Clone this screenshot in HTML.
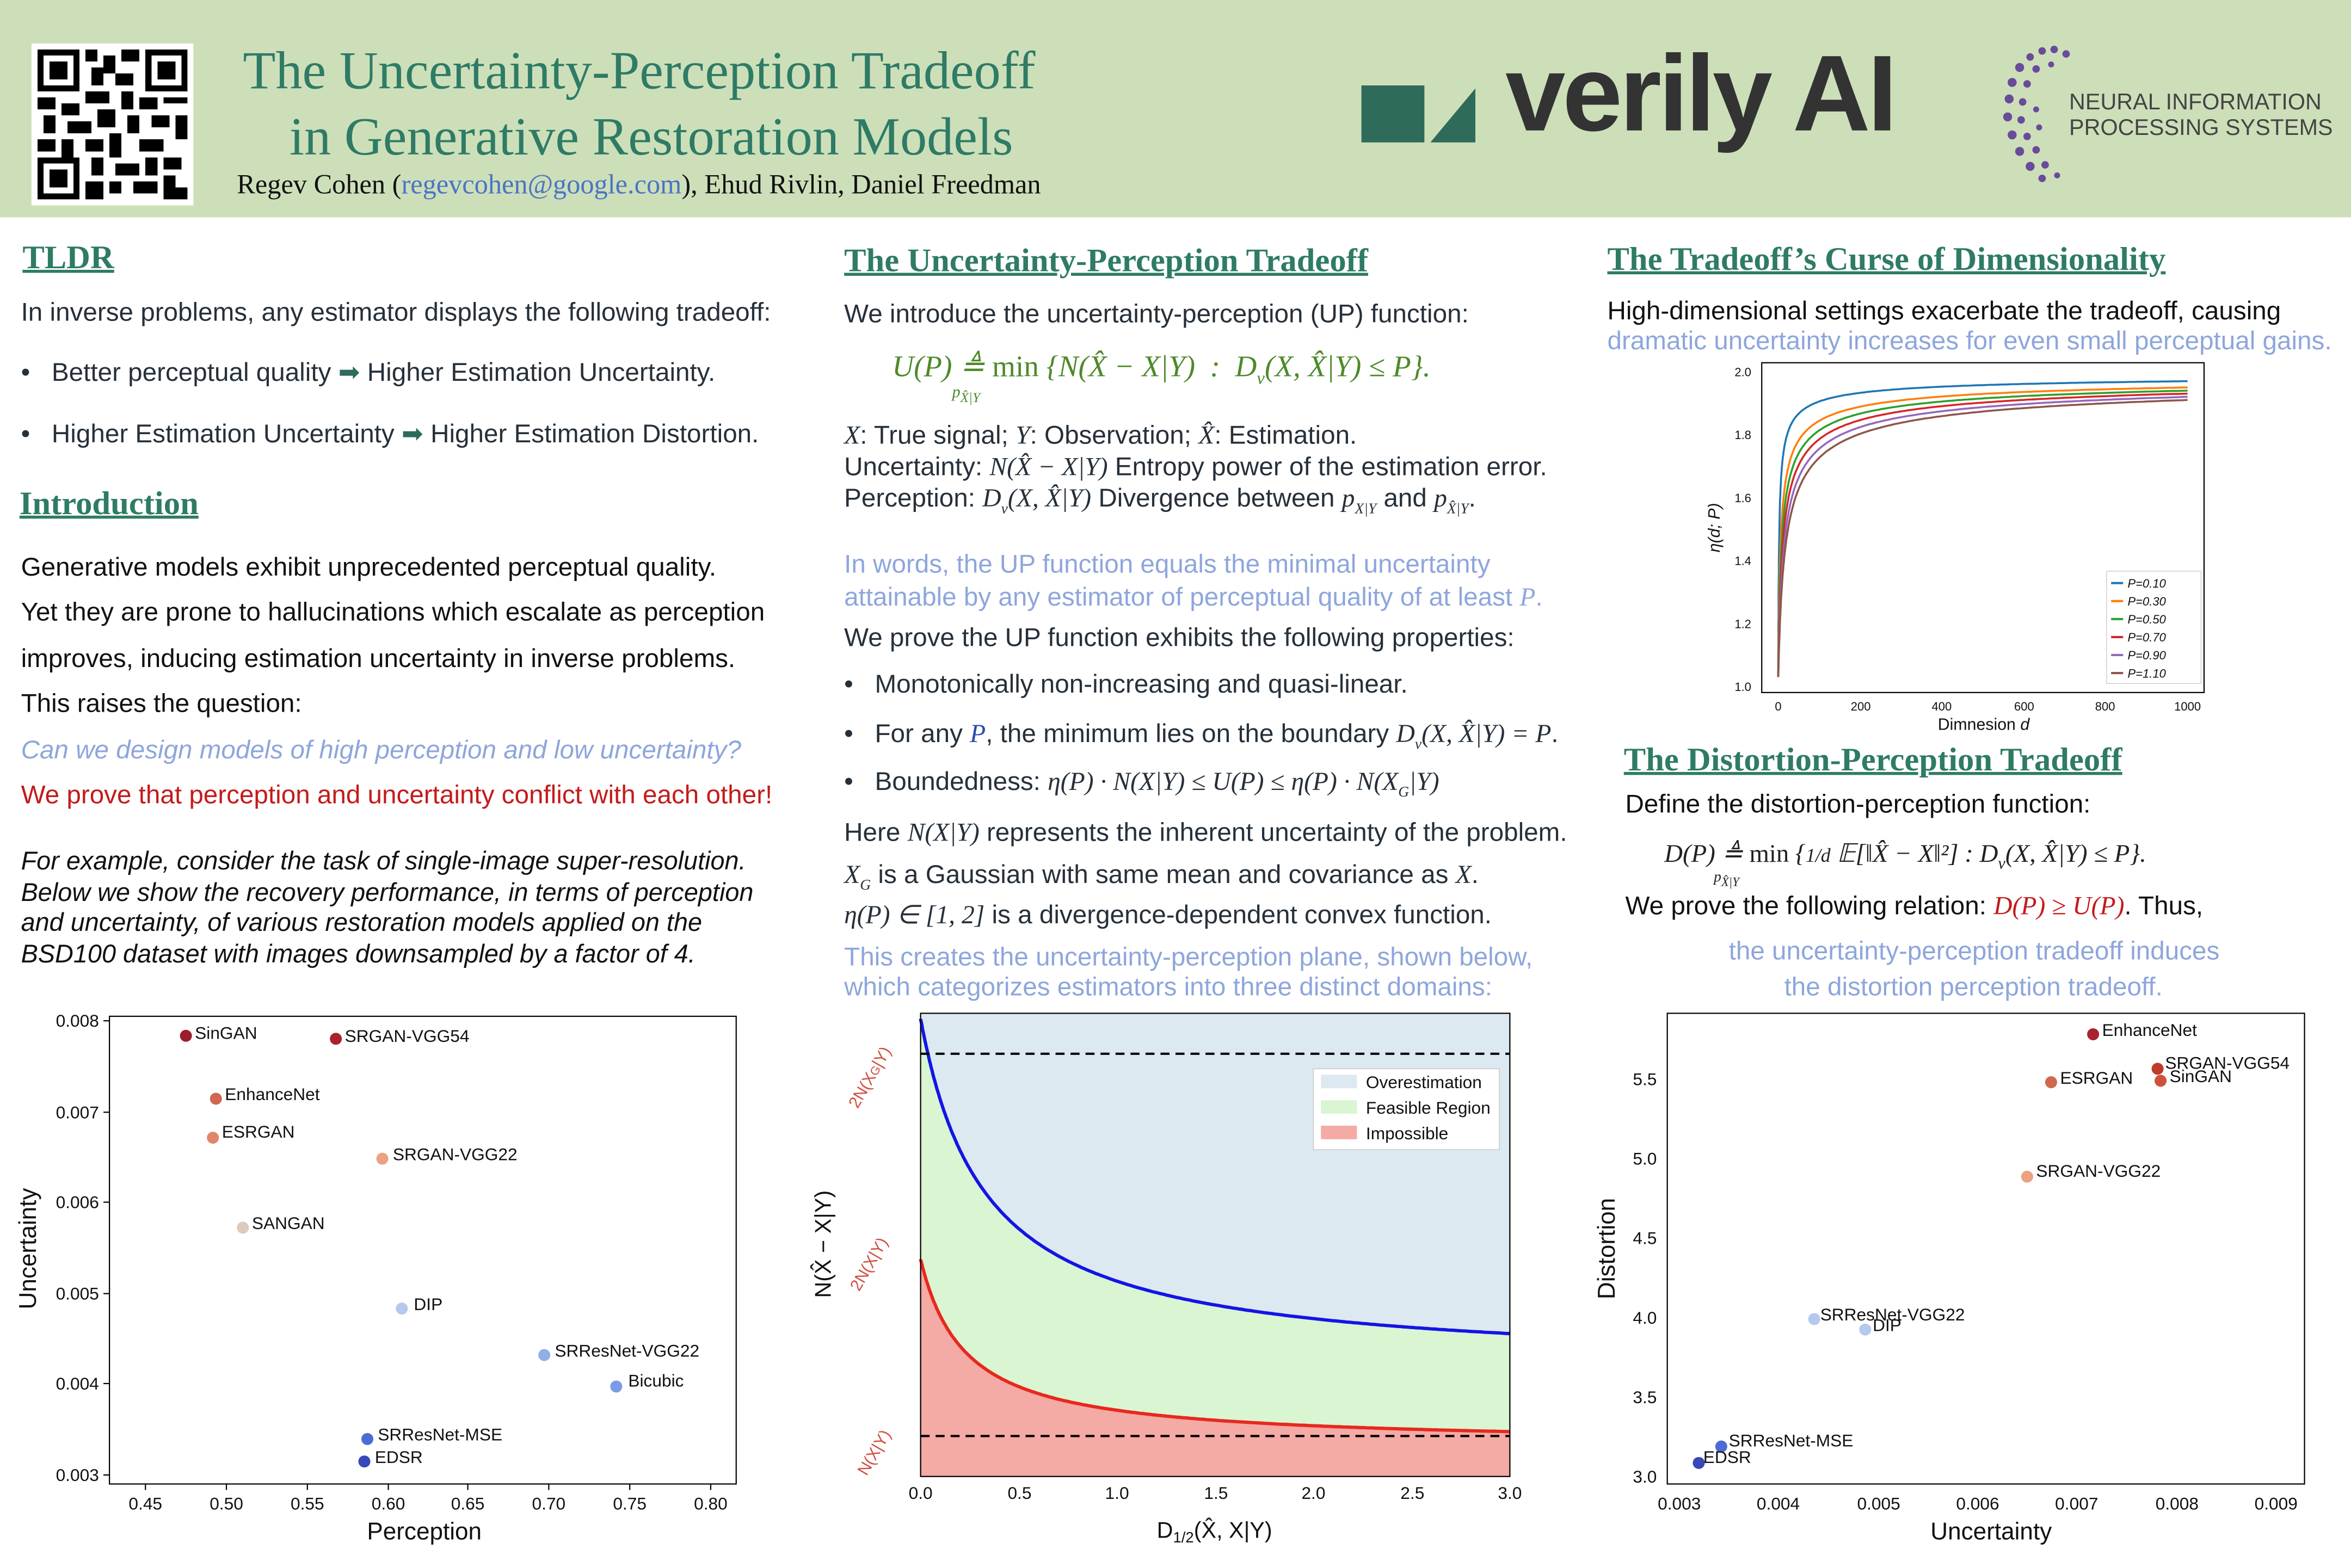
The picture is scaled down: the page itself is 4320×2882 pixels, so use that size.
<!DOCTYPE html>
<html><head><meta charset="utf-8">
<style>
html,body{margin:0;padding:0;background:#fff;overflow:hidden}
#root{position:absolute;left:0;top:0;width:1568px;height:1046px;transform:scale(2.7551);transform-origin:0 0;font-family:"Liberation Sans",sans-serif;color:#26303a}
.a{position:absolute;white-space:nowrap}
.t{font-size:17.3px}
.h{font-family:"Liberation Serif",serif;font-weight:bold;color:#2e7b66;font-size:22px;text-decoration:underline;text-decoration-thickness:1.5px}
.b{color:#8ea6dc}
.m{font-family:"Liberation Serif",serif;font-style:italic}
.g{color:#4d8a2a}
svg text{font-family:"Liberation Sans",sans-serif}
</style></head><body>
<div id="root">
<!-- header -->
<div class="a" style="left:0;top:0;width:1568px;height:145px;background:#cddfb9"></div>
<div class="a" style="left:21px;top:29px;width:108px;height:108px;background:#fff"></div>
<svg class="a" style="left:25px;top:33px" width="100" height="100" viewBox="0 0 25 25" shape-rendering="crispEdges">
<g fill="#000">
<rect x="0" y="0" width="7" height="7"/><rect x="1" y="1" width="5" height="5" fill="#fff"/><rect x="2" y="2" width="3" height="3"/>
<rect x="18" y="0" width="7" height="7"/><rect x="19" y="1" width="5" height="5" fill="#fff"/><rect x="20" y="2" width="3" height="3"/>
<rect x="0" y="18" width="7" height="7"/><rect x="1" y="19" width="5" height="5" fill="#fff"/><rect x="2" y="20" width="3" height="3"/>
<path d="M8 0h2v2h-2zM11 1h2v3h-2zM14 0h3v2h-3zM9 3h2v3h-2zM13 4h3v2h-3zM8 7h4v2h-4zM14 7h2v3h-2zM17 8h3v2h-3zM21 8h4v1h-4zM0 8h3v2h-3zM4 9h3v2h-3zM1 11h2v3h-2zM5 12h4v2h-4zM10 10h3v3h-3zM15 11h2v3h-2zM19 11h3v2h-3zM23 11h2v4h-2zM0 15h3v2h-3zM4 15h2v3h-2zM8 15h3v2h-3zM12 14h2v4h-2zM17 15h4v2h-4zM9 18h2v3h-2zM13 19h4v2h-4zM18 18h2v3h-2zM21 18h3v2h-3zM8 22h3v3h-3zM12 22h2v2h-2zM16 22h4v2h-4zM21 21h2v4h-2zM23 23h2v2h-2z"/>
</g></svg>
<div class="a" style="left:162px;top:26px;font-family:'Liberation Serif',serif;font-size:35.7px;color:#2e7b66">The Uncertainty-Perception Tradeoff</div>
<div class="a" style="left:193px;top:70px;font-family:'Liberation Serif',serif;font-size:35.7px;color:#2e7b66">in Generative Restoration Models</div>
<div class="a" style="left:158px;top:113px;font-family:'Liberation Serif',serif;font-size:18.3px;color:#111">Regev Cohen (<span style="color:#4a74c4">regevcohen@google.com</span>), Ehud Rivlin, Daniel Freedman</div>
<svg class="a" style="left:906px;top:55px" width="80" height="42"><polygon points="2,2 44,2 44,40 2,40" fill="#2f6b5b"/><polygon points="48,40 78,4 78,40" fill="#2f6b5b"/></svg>
<div class="a" style="left:1004px;top:22px;font-size:72px;font-weight:bold;color:#333;letter-spacing:-2px">verily AI</div>
<svg class="a" style="left:1332px;top:28px" width="60" height="96">
<g fill="#6a4b9a">
<circle cx="30" cy="6" r="2.5"/><circle cx="38" cy="5" r="2.5"/><circle cx="22" cy="10" r="2.5"/><circle cx="46" cy="8" r="2.5"/><circle cx="15" cy="17" r="3"/><circle cx="26" cy="18" r="2.5"/><circle cx="36" cy="15" r="2"/><circle cx="10" cy="27" r="3"/><circle cx="20" cy="28" r="2.5"/><circle cx="8" cy="38" r="3"/><circle cx="17" cy="40" r="2.5"/><circle cx="7" cy="50" r="3"/><circle cx="16" cy="52" r="2.5"/><circle cx="10" cy="62" r="3"/><circle cx="20" cy="63" r="2.5"/><circle cx="15" cy="73" r="3"/><circle cx="26" cy="72" r="2.5"/><circle cx="22" cy="83" r="3"/><circle cx="32" cy="82" r="2.5"/><circle cx="30" cy="91" r="2.5"/><circle cx="40" cy="89" r="2"/><circle cx="26" cy="45" r="2"/><circle cx="28" cy="57" r="2"/>
</g></svg>
<div class="a" style="left:1380px;top:60px;font-size:15px;color:#444;line-height:17px">NEURAL INFORMATION<br>PROCESSING SYSTEMS</div>

<!-- column 1 -->
<div class="a h" style="left:15px;top:159px">TLDR</div>
<div class="a t" style="left:14px;top:198px">In inverse problems, any estimator displays the following tradeoff:</div>
<div class="a t" style="left:14px;top:238px">•&nbsp;&nbsp;&nbsp;Better perceptual quality <span style="color:#2e6b5c">&#x27A1;</span> Higher Estimation Uncertainty.</div>
<div class="a t" style="left:14px;top:279px">•&nbsp;&nbsp;&nbsp;Higher Estimation Uncertainty <span style="color:#2e6b5c">&#x27A1;</span> Higher Estimation Distortion.</div>
<div class="a h" style="left:13px;top:323px">Introduction</div>
<div class="a t" style="left:14px;top:368px;color:#111">Generative models exhibit unprecedented perceptual quality.</div>
<div class="a t" style="left:14px;top:398px;color:#111">Yet they are prone to hallucinations which escalate as perception</div>
<div class="a t" style="left:14px;top:429px;color:#111">improves, inducing estimation uncertainty in inverse problems.</div>
<div class="a t" style="left:14px;top:459px;color:#111">This raises the question:</div>
<div class="a t b" style="left:14px;top:490px;font-style:italic">Can we design models of high perception and low uncertainty?</div>
<div class="a t" style="left:14px;top:520px;color:#c41a1a">We prove that perception and uncertainty conflict with each other!</div>
<div class="a" style="left:14px;top:565px;font-size:17px;font-style:italic;line-height:20.5px;color:#111">For example, consider the task of single-image super-resolution.<br>Below we show the recovery performance, in terms of perception<br>and uncertainty, of various restoration models applied on the<br>BSD100 dataset with images downsampled by a factor of 4.</div>

<svg class="a" style="left:0;top:0" width="1568" height="1046">
<!-- chart 1 -->
<g font-size="11.5" fill="#111">
<rect x="73" y="678" width="418" height="312" fill="none" stroke="#000" stroke-width="0.8"/>
<g stroke="#000" stroke-width="0.8">
<line x1="97" y1="990" x2="97" y2="994"/><line x1="151" y1="990" x2="151" y2="994"/><line x1="205" y1="990" x2="205" y2="994"/><line x1="259" y1="990" x2="259" y2="994"/><line x1="312" y1="990" x2="312" y2="994"/><line x1="366" y1="990" x2="366" y2="994"/><line x1="420" y1="990" x2="420" y2="994"/><line x1="474" y1="990" x2="474" y2="994"/>
<line x1="69" y1="681" x2="73" y2="681"/><line x1="69" y1="742" x2="73" y2="742"/><line x1="69" y1="802" x2="73" y2="802"/><line x1="69" y1="863" x2="73" y2="863"/><line x1="69" y1="923" x2="73" y2="923"/><line x1="69" y1="984" x2="73" y2="984"/>
</g>
<g text-anchor="middle"><text x="97" y="1007">0.45</text><text x="151" y="1007">0.50</text><text x="205" y="1007">0.55</text><text x="259" y="1007">0.60</text><text x="312" y="1007">0.65</text><text x="366" y="1007">0.70</text><text x="420" y="1007">0.75</text><text x="474" y="1007">0.80</text></g>
<g text-anchor="end"><text x="66" y="685">0.008</text><text x="66" y="746">0.007</text><text x="66" y="806">0.006</text><text x="66" y="867">0.005</text><text x="66" y="927">0.004</text><text x="66" y="988">0.003</text></g>
<text x="283" y="1027" font-size="16" text-anchor="middle">Perception</text>
<text transform="translate(24,833) rotate(-90)" font-size="16" text-anchor="middle">Uncertainty</text>
<circle cx="124" cy="691" r="4" fill="#9b1c2c"/><text x="130" y="693">SinGAN</text>
<circle cx="224" cy="693" r="4" fill="#a8232f"/><text x="230" y="695">SRGAN-VGG54</text>
<circle cx="144" cy="733" r="4" fill="#d06850"/><text x="150" y="734">EnhanceNet</text>
<circle cx="142" cy="759" r="4" fill="#e0866a"/><text x="148" y="759">ESRGAN</text>
<circle cx="255" cy="773" r="4" fill="#eba282"/><text x="262" y="774">SRGAN-VGG22</text>
<circle cx="162" cy="819" r="4" fill="#ddcabc"/><text x="168" y="820">SANGAN</text>
<circle cx="268" cy="873" r="4" fill="#b5c8ee"/><text x="276" y="874">DIP</text>
<circle cx="363" cy="904" r="4" fill="#90aee8"/><text x="370" y="905">SRResNet-VGG22</text>
<circle cx="411" cy="925" r="4" fill="#7a9be6"/><text x="419" y="925">Bicubic</text>
<circle cx="245" cy="960" r="4" fill="#4e6bd4"/><text x="252" y="961">SRResNet-MSE</text>
<circle cx="243" cy="975" r="4" fill="#3848b8"/><text x="250" y="976">EDSR</text>
</g>

<!-- chart 2 -->
<g font-size="11.5" fill="#111">
<rect x="614" y="676" width="393" height="309" fill="#dde9f1"/>
<path id="fillG" fill="#d9f5d2"/>
<path id="fillR" fill="#f4aaa5"/>
<path id="lineB" fill="none" stroke="#1414e6" stroke-width="2.2"/>
<path id="lineR" fill="none" stroke="#e8281e" stroke-width="2.2"/>
<line x1="614" y1="703" x2="1007" y2="703" stroke="#000" stroke-width="1.5" stroke-dasharray="6,4"/>
<line x1="614" y1="958" x2="1007" y2="958" stroke="#000" stroke-width="1.5" stroke-dasharray="6,4"/>
<rect x="614" y="676" width="393" height="309" fill="none" stroke="#000" stroke-width="0.8"/>
<g text-anchor="middle"><text x="614" y="1000">0.0</text><text x="680" y="1000">0.5</text><text x="745" y="1000">1.0</text><text x="811" y="1000">1.5</text><text x="876" y="1000">2.0</text><text x="942" y="1000">2.5</text><text x="1007" y="1000">3.0</text></g>
<rect x="876" y="713" width="124" height="54" fill="#fff" stroke="#ccc" stroke-width="0.6"/>
<rect x="881" y="717" width="24" height="9" fill="#dde9f1"/><text x="911" y="726">Overestimation</text>
<rect x="881" y="734" width="24" height="9" fill="#d9f5d2"/><text x="911" y="743">Feasible Region</text>
<rect x="881" y="751" width="24" height="9" fill="#f4aaa5"/><text x="911" y="760">Impossible</text>
<g fill="#d05040" font-size="11"><text transform="translate(572,740) rotate(-60)">2N(X<tspan font-size="8">G</tspan>|Y)</text><text transform="translate(573,862) rotate(-60)">2N(X|Y)</text><text transform="translate(578,985) rotate(-60)">N(X|Y)</text></g>
<text transform="translate(554,830) rotate(-90)" font-size="15" text-anchor="middle">N(X̂ − X|Y)</text>
<text x="810" y="1026" font-size="15" text-anchor="middle">D<tspan font-size="10" dy="3">1/2</tspan><tspan dy="-3">(X̂, X|Y)</tspan></text>
</g>

<!-- chart 3 -->
<g font-size="8" fill="#111">
<rect x="1175" y="242" width="295" height="220" fill="none" stroke="#000" stroke-width="0.8"/>
<g text-anchor="end"><text x="1168" y="251">2.0</text><text x="1168" y="293">1.8</text><text x="1168" y="335">1.6</text><text x="1168" y="377">1.4</text><text x="1168" y="419">1.2</text><text x="1168" y="461">1.0</text></g>
<g text-anchor="middle"><text x="1186" y="474">0</text><text x="1241" y="474">200</text><text x="1295" y="474">400</text><text x="1350" y="474">600</text><text x="1404" y="474">800</text><text x="1459" y="474">1000</text></g>
<text x="1323" y="487" font-size="11" text-anchor="middle">Dimnesion <tspan font-style="italic">d</tspan></text>
<text transform="translate(1147,352) rotate(-90)" font-size="11" text-anchor="middle" font-style="italic">η(d; P)</text>
<g id="etas" fill="none" stroke-width="1.3"></g>
<rect x="1405" y="381" width="63" height="75" fill="#fff" stroke="#ccc" stroke-width="0.5"/>
<g stroke-width="1.5"><line x1="1408" y1="389" x2="1416" y2="389" stroke="#1f77b4"/><line x1="1408" y1="401" x2="1416" y2="401" stroke="#ff7f0e"/><line x1="1408" y1="413" x2="1416" y2="413" stroke="#2ca02c"/><line x1="1408" y1="425" x2="1416" y2="425" stroke="#d62728"/><line x1="1408" y1="437" x2="1416" y2="437" stroke="#9467bd"/><line x1="1408" y1="449" x2="1416" y2="449" stroke="#8c564b"/></g>
<g font-style="italic"><text x="1419" y="392">P=0.10</text><text x="1419" y="404">P=0.30</text><text x="1419" y="416">P=0.50</text><text x="1419" y="428">P=0.70</text><text x="1419" y="440">P=0.90</text><text x="1419" y="452">P=1.10</text></g>
</g>

<!-- chart 4 -->
<g font-size="11.5" fill="#111">
<rect x="1112" y="676" width="425" height="314" fill="none" stroke="#000" stroke-width="0.8"/>
<g text-anchor="middle"><text x="1120" y="1007">0.003</text><text x="1186" y="1007">0.004</text><text x="1253" y="1007">0.005</text><text x="1319" y="1007">0.006</text><text x="1385" y="1007">0.007</text><text x="1452" y="1007">0.008</text><text x="1518" y="1007">0.009</text></g>
<g text-anchor="end"><text x="1105" y="989">3.0</text><text x="1105" y="936">3.5</text><text x="1105" y="883">4.0</text><text x="1105" y="830">4.5</text><text x="1105" y="777">5.0</text><text x="1105" y="724">5.5</text></g>
<text x="1328" y="1027" font-size="16" text-anchor="middle">Uncertainty</text>
<text transform="translate(1077,833) rotate(-90)" font-size="16" text-anchor="middle">Distortion</text>
<circle cx="1396" cy="690" r="4" fill="#a8232f"/><text x="1402" y="691">EnhanceNet</text>
<circle cx="1439" cy="713" r="4" fill="#c0392b"/><text x="1444" y="713">SRGAN-VGG54</text>
<circle cx="1441" cy="721" r="4" fill="#d05040"/><text x="1447" y="722">SinGAN</text>
<circle cx="1368" cy="722" r="4" fill="#d06850"/><text x="1374" y="723">ESRGAN</text>
<circle cx="1352" cy="785" r="4" fill="#eba282"/><text x="1358" y="785">SRGAN-VGG22</text>
<circle cx="1210" cy="880" r="4" fill="#b5c8ee"/><text x="1214" y="881">SRResNet-VGG22</text>
<circle cx="1244" cy="887" r="4" fill="#b5c8ee"/><text x="1249" y="888">DIP</text>
<circle cx="1148" cy="965" r="4" fill="#4e6bd4"/><text x="1153" y="965">SRResNet-MSE</text>
<circle cx="1133" cy="976" r="4" fill="#3848b8"/><text x="1136" y="976">EDSR</text>
</g>
</svg>

<!-- column 2 -->
<div class="a h" style="left:563px;top:161px">The Uncertainty-Perception Tradeoff</div>
<div class="a t" style="left:563px;top:199px">We introduce the uncertainty-perception (UP) function:</div>
<div class="a m g" style="left:595px;top:232px;font-size:20px">U(P) ≜ <span style="font-style:normal">min</span> {N(X̂ − X|Y) &nbsp;:&nbsp; D<sub style="font-size:12px">v</sub>(X, X̂|Y) ≤ P}.</div>
<div class="a m g" style="left:635px;top:256px;font-size:11px">p<sub>X̂|Y</sub></div>
<div class="a t" style="left:563px;top:280px;line-height:21px"><span class="m">X</span>: True signal; <span class="m">Y</span>: Observation; <span class="m">X̂</span>: Estimation.<br>Uncertainty: <span class="m">N(X̂ − X|Y)</span> Entropy power of the estimation error.<br>Perception: <span class="m">D<sub style="font-size:10px">v</sub>(X, X̂|Y)</span> Divergence between <span class="m">p<sub style="font-size:10px">X|Y</sub></span> and <span class="m">p<sub style="font-size:10px">X̂|Y</sub></span>.</div>
<div class="a t b" style="left:563px;top:365px;line-height:22px">In words, the UP function equals the minimal uncertainty<br>attainable by any estimator of perceptual quality of at least <span class="m">P</span>.</div>
<div class="a t" style="left:563px;top:415px">We prove the UP function exhibits the following properties:</div>
<div class="a t" style="left:563px;top:446px">•&nbsp;&nbsp;&nbsp;Monotonically non-increasing and quasi-linear.</div>
<div class="a t" style="left:563px;top:479px">•&nbsp;&nbsp;&nbsp;For any <span class="m" style="color:#2a4cb0">P</span>, the minimum lies on the boundary <span class="m">D<sub style="font-size:10px">v</sub>(X, X̂|Y) = P</span>.</div>
<div class="a t" style="left:563px;top:511px">•&nbsp;&nbsp;&nbsp;Boundedness: <span class="m">η(P) · N(X|Y) ≤ U(P) ≤ η(P) · N(X<sub style="font-size:10px">G</sub>|Y)</span></div>
<div class="a t" style="left:563px;top:545px">Here <span class="m">N(X|Y)</span> represents the inherent uncertainty of the problem.</div>
<div class="a t" style="left:563px;top:573px"><span class="m">X<sub style="font-size:10px">G</sub></span> is a Gaussian with same mean and covariance as <span class="m">X</span>.</div>
<div class="a t" style="left:563px;top:600px"><span class="m">η(P) ∈ [1, 2]</span> is a divergence-dependent convex function.</div>
<div class="a t b" style="left:563px;top:628px;line-height:20px">This creates the uncertainty-perception plane, shown below,<br>which categorizes estimators into three distinct domains:</div>

<!-- column 3 -->
<div class="a h" style="left:1072px;top:160px">The Tradeoff’s Curse of Dimensionality</div>
<div class="a t" style="left:1072px;top:197px;color:#111">High-dimensional settings exacerbate the tradeoff, causing</div>
<div class="a t b" style="left:1072px;top:217px">dramatic uncertainty increases for even small perceptual gains.</div>
<div class="a h" style="left:1083px;top:494px">The Distortion-Perception Tradeoff</div>
<div class="a t" style="left:1084px;top:526px;color:#111">Define the distortion-perception function:</div>
<div class="a m" style="left:1110px;top:560px;font-size:17px;color:#222">D(P) ≜ <span style="font-style:normal">min</span> {<span style="font-size:13px">1/d</span> 𝔼[‖X̂ − X‖²] : D<sub style="font-size:11px">v</sub>(X, X̂|Y) ≤ P}.</div>
<div class="a m" style="left:1143px;top:580px;font-size:10px;color:#222">p<sub>X̂|Y</sub></div>
<div class="a t" style="left:1084px;top:594px;color:#111">We prove the following relation: <span class="m" style="color:#c41a1a">D(P) ≥ U(P)</span>. Thus,</div>
<div class="a t b" style="left:1153px;top:624px">the uncertainty-perception tradeoff induces</div>
<div class="a t b" style="left:1190px;top:648px">the distortion perception tradeoff.</div>
</div>
<script>
(function(){
function X(x){return 614+131*x;}
function blue(x){return 913-77.7/(x+0.333);}
function red(x){return 963.8-28.2/(x+0.228);}
var b="",r="",N=300,i,x;
for(i=0;i<=N;i++){x=3*Math.pow(i/N,1.6);b+=(i?"L":"M")+X(x).toFixed(1)+","+blue(x).toFixed(1);r+=(i?"L":"M")+X(x).toFixed(1)+","+red(x).toFixed(1);}
document.getElementById("lineB").setAttribute("d",b);
document.getElementById("lineR").setAttribute("d",r);
var g=b;for(i=N;i>=0;i--){x=3*Math.pow(i/N,1.6);g+="L"+X(x).toFixed(1)+","+red(x).toFixed(1);}
document.getElementById("fillG").setAttribute("d",g+"Z");
document.getElementById("fillR").setAttribute("d",r+"L1007,985L614,985Z");
var as=[0.95,1.58,1.9,2.2,2.53,2.85],cs=["#1f77b4","#ff7f0e","#2ca02c","#d62728","#9467bd","#8c564b"];
var eg=document.getElementById("etas"),ns="http://www.w3.org/2000/svg";
for(var k=0;k<6;k++){var a=as[k],bb=Math.pow(a/0.97,2),d="";
 for(i=0;i<=200;i++){var dd=Math.pow(i/200,2.5)*1000;var e=2-a/Math.sqrt(dd+bb);
 d+=(i?"L":"M")+(1186+0.273*dd).toFixed(1)+","+(458-210*(e-1)).toFixed(1);}
 var p=document.createElementNS(ns,"path");p.setAttribute("d",d);p.setAttribute("stroke",cs[k]);eg.appendChild(p);}
})();
</script>
</body></html>
